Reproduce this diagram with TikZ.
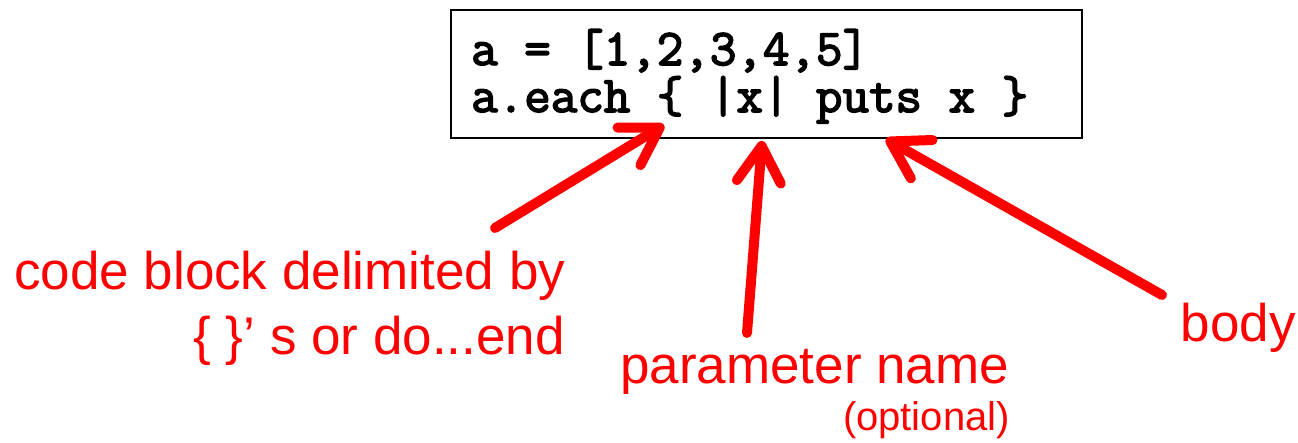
\documentclass[tikz,border=0pt]{standalone}
\usepackage{fontspec}
\setmainfont{Liberation Sans}
\newfontfamily\codefont[FakeBold=3]{Latin Modern Mono}
\usetikzlibrary{arrows.meta}
\definecolor{lblred}{RGB}{255,0,0}
\tikzset{
  lbl/.style={text=lblred, inner sep=0pt, font=\fontsize{53}{60}\selectfont},
  smalllbl/.style={text=lblred, inner sep=0pt, font=\fontsize{40}{46}\selectfont},
  codeline/.style={inner sep=0pt, font=\codefont\fontsize{51.5}{56}\selectfont},
  pointer/.style={draw=lblred, line width=10pt, line cap=round,
    -{Straight Barb[length=36pt,width=44pt,round]}},
  codebox/.style={draw=black, line width=2.5pt, minimum width=631pt, minimum height=128pt, inner sep=0pt}
}
\begin{document}
\begin{tikzpicture}[x=1pt,y=-1pt]
\useasboundingbox (0,0) rectangle (1298,443);
\node[codebox] (box) at (766.5,74) {};
\node[codeline, anchor=base west] (l1) at (471,65) {a = [1,2,3,4,5]};
\node[codeline, anchor=base west] (l2) at (471,112) {a.each \{ |x| puts x \}};
\node[lbl, anchor=base west] (cb1) at (14,290) {code block delimited by};
\node[lbl, anchor=base east] (cb2) at (565,355) {\{ \}’ s or do...end};
\node[lbl, anchor=base west] (pn) at (620,383) {parameter name};
\node[smalllbl, anchor=base east] (opt) at (1010,430) {(optional)};
\node[lbl, anchor=base east] (body) at (1296,342) {body};
\coordinate (s1) at (495,228);
\coordinate (t1) at (664,125);
\coordinate (s2) at (747,333);
\coordinate (t2) at (762,141);
\coordinate (s3) at (1162,295);
\coordinate (t3) at (886,139);
\draw[pointer] (s1) -- (t1);
\draw[pointer] (s2) -- (t2);
\draw[pointer] (s3) -- (t3);
\end{tikzpicture}
\end{document}
